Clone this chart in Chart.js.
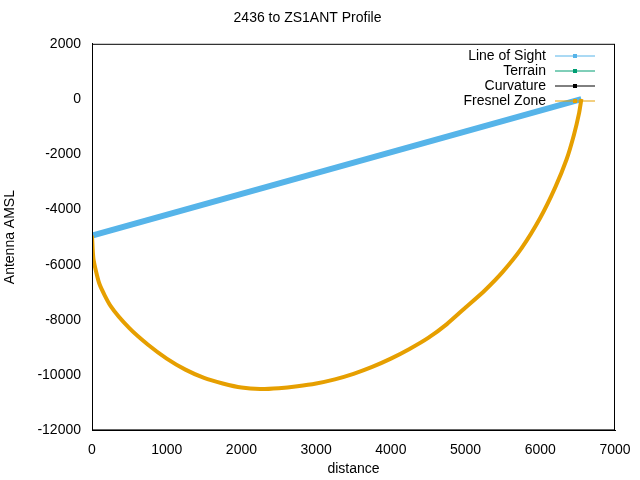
<!DOCTYPE html>
<html>
<head>
<meta charset="utf-8">
<script src="https://cdn.jsdelivr.net/npm/chart.js@4/dist/chart.umd.min.js"></script>
<style>
  html, body { margin: 0; background: #fff; }
  #wrap { width: 640px; height: 480px; }
</style>
</head>
<body>
<div id="wrap"><canvas id="c" width="640" height="480"></canvas></div>
<script>
// values
const losX = [0, 6550];
const losY = [-4950, 0];

const fresnelX = [0, 20, 100, 250, 500, 750, 1000, 1250, 1500, 1750, 2000, 2250, 2500, 2750, 3000,
  3250, 3500, 3750, 4000, 4250, 4500, 4750, 5000, 5250, 5500, 5750, 6000, 6200, 6350, 6450, 6520, 6550];
const fresnelY = [-4950, -5800, -6700, -7500, -8300, -8900, -9400, -9800, -10100, -10300, -10450, -10500,
  -10470, -10400, -10300, -10150, -9950, -9700, -9400, -9050, -8650, -8150, -7550, -6950, -6250,
  -5400, -4300, -3200, -2200, -1300, -500, 0];

const terrainX = [6550];
const terrainY = [0];
const curvatureX = [6550];
const curvatureY = [0];

const seriesNames = ['Line of Sight', 'Terrain', 'Curvature', 'Fresnel Zone'];
const seriesColors = ['#56b4e9', '#009e73', '#000000', '#e69f00'];

function pts(xs, ys) {
  return xs.map(function (x, i) { return { x: x, y: ys[i] }; });
}

// gnuplot-style key: right-aligned text, sample line to its right
const keyPlugin = {
  id: 'gkey',
  afterDraw: function (chart) {
    const ctx = chart.ctx;
    ctx.save();
    ctx.font = '14px "Liberation Sans", Arial, sans-serif';
    ctx.textAlign = 'right';
    ctx.textBaseline = 'middle';
    seriesNames.forEach(function (name, i) {
      const y = 56 + i * 15;
      ctx.fillStyle = '#000';
      ctx.fillText(name, 546, y);
      ctx.strokeStyle = seriesColors[i];
      ctx.lineWidth = 1;
      ctx.beginPath();
      ctx.moveTo(555, y);
      ctx.lineTo(595, y);
      ctx.stroke();
      ctx.fillStyle = seriesColors[i];
      ctx.fillRect(573, y - 2, 4, 4);
    });
    ctx.restore();
  }
};

const tickFont = { family: '"Liberation Sans", Arial, sans-serif', size: 14 };

new Chart(document.getElementById('c'), {
  type: 'scatter',
  data: {
    datasets: [
      { label: seriesNames[3], data: pts(fresnelX, fresnelY), showLine: true, borderColor: seriesColors[3],
        borderWidth: 4, pointRadius: 0, tension: 0.2 },
      { label: seriesNames[1], data: pts(terrainX, terrainY), showLine: true, borderColor: seriesColors[1],
        borderWidth: 1, pointRadius: 0 },
      { label: seriesNames[2], data: pts(curvatureX, curvatureY), showLine: true, borderColor: seriesColors[2],
        borderWidth: 1, pointRadius: 0 },
      { label: seriesNames[0], data: pts(losX, losY), showLine: true, borderColor: seriesColors[0],
        borderWidth: 6, pointRadius: 0 }
    ]
  },
  options: {
    responsive: false,
    animation: false,
    layout: { padding: { left: 0, right: 25, top: 6, bottom: 2 } },
    plugins: {
      legend: { display: false },
      tooltip: { enabled: false },
      title: { display: true, text: '2436 to ZS1ANT Profile', color: '#000',
        font: { family: tickFont.family, size: 14, weight: 'normal' }, padding: { top: 4, bottom: 17 } }
    },
    scales: {
      x: {
        type: 'linear', min: 0, max: 7000,
        ticks: { stepSize: 1000, color: '#000', font: tickFont, callback: function (v) { return String(v); } },
        grid: { display: false, drawTicks: true },
        border: { color: '#000' },
        title: { display: true, text: 'distance', color: '#000', font: tickFont, padding: 0 }
      },
      y: {
        min: -12000, max: 2000,
        afterFit: function (s) { s.width = 92; },
        ticks: { stepSize: 2000, color: '#000', font: tickFont, callback: function (v) { return String(v); } },
        grid: { display: false },
        border: { color: '#000' },
        title: { display: true, text: 'Antenna AMSL', color: '#000', font: tickFont, padding: 2 }
      }
    }
  },
  plugins: [keyPlugin, {
    id: 'box',
    afterDraw: function (chart) {
      const a = chart.chartArea, ctx = chart.ctx;
      ctx.save();
      ctx.strokeStyle = '#000';
      ctx.lineWidth = 1;
      ctx.strokeRect(a.left + 0.5, a.top + 0.5, a.right - a.left - 1, a.bottom - a.top - 1);
      ctx.restore();
    }
  }]
});
</script>
</body>
</html>
